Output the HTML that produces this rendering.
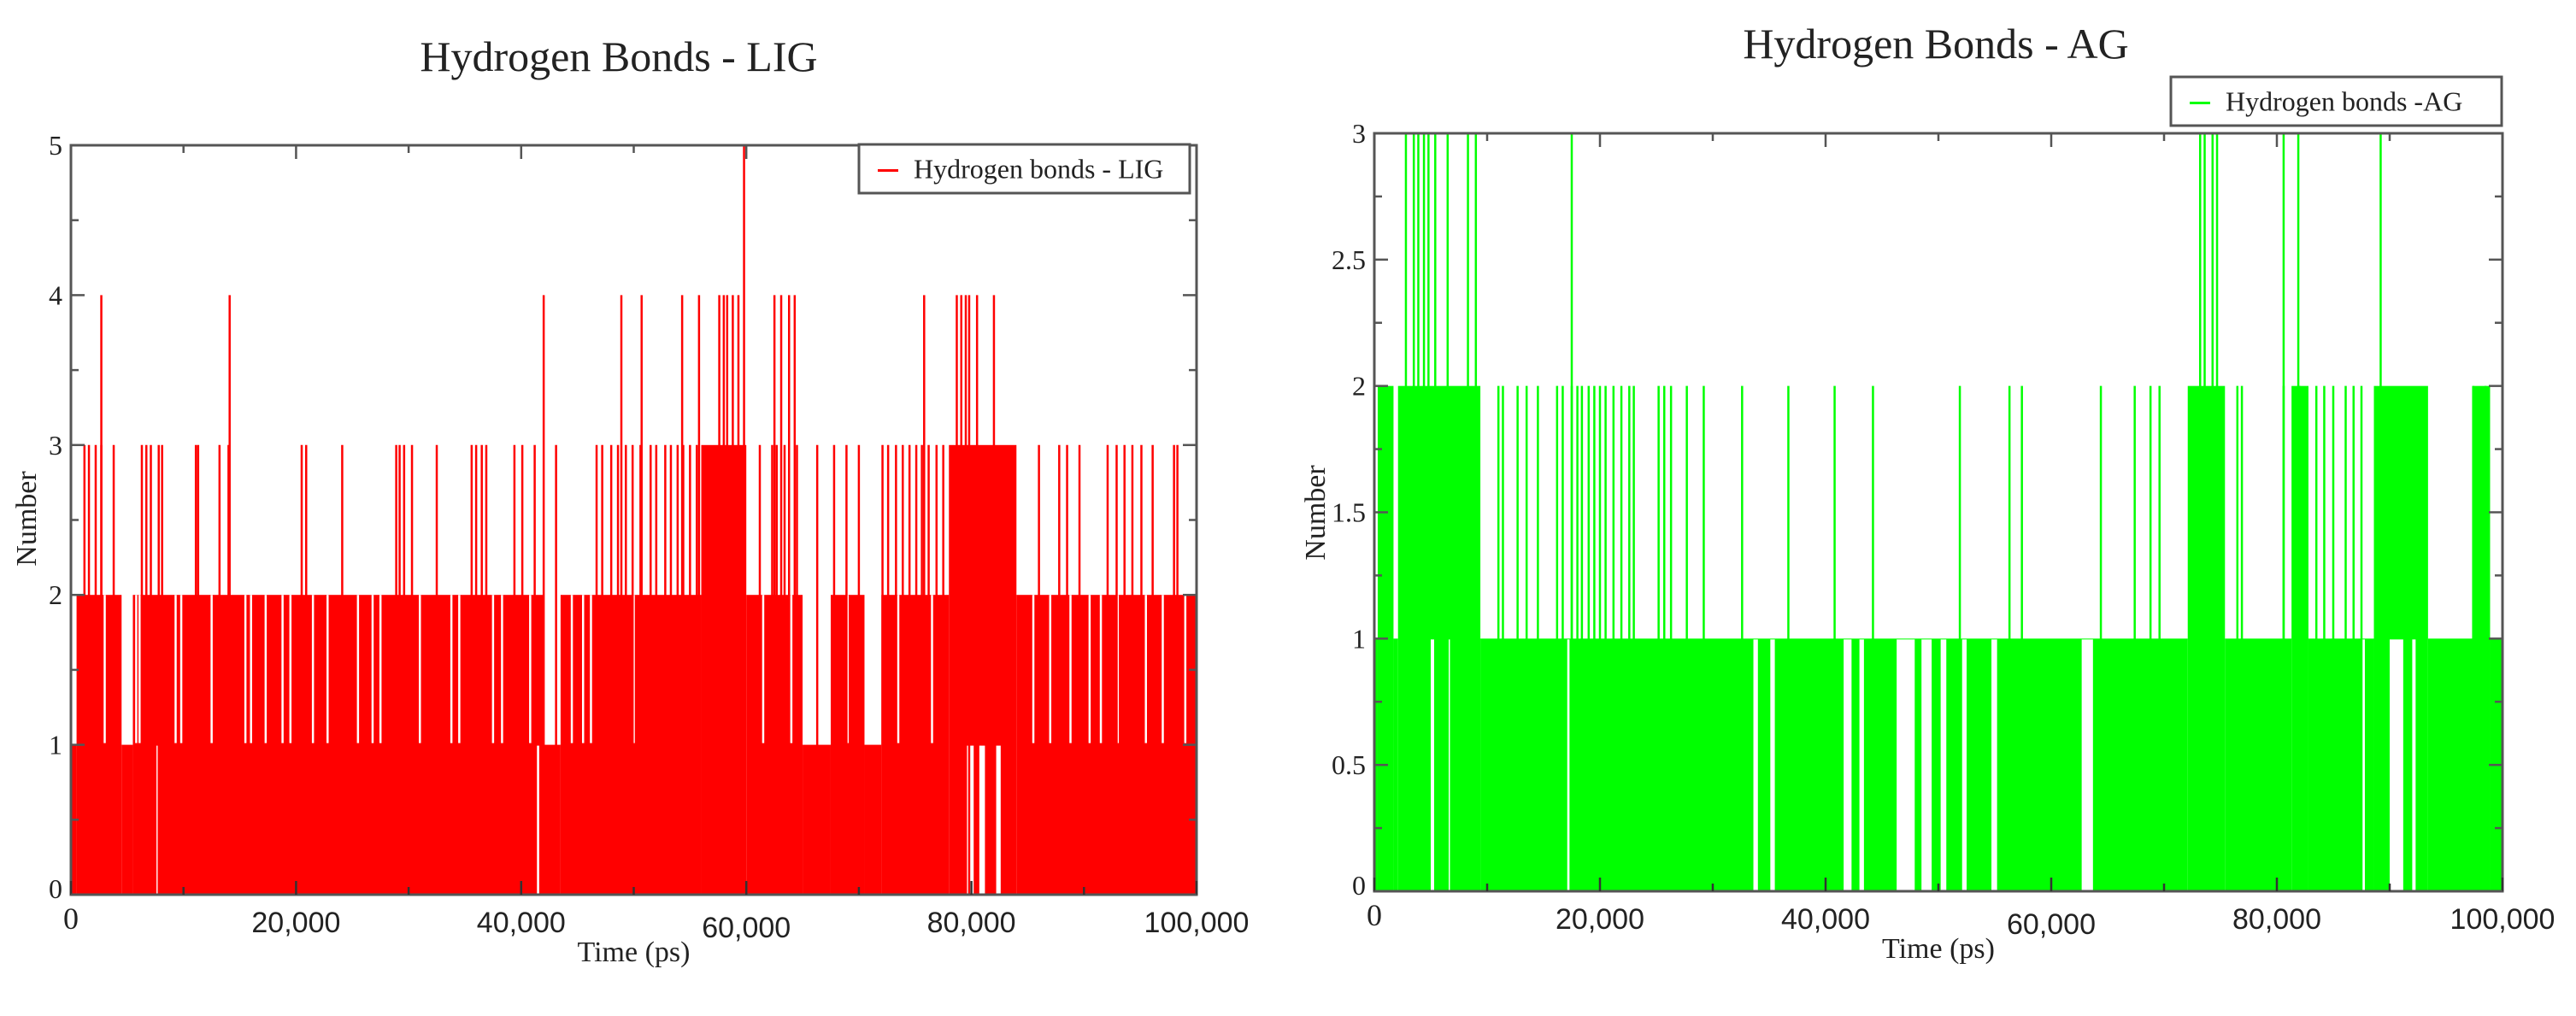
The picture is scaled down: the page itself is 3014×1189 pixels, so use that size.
<!DOCTYPE html>
<html><head><meta charset="utf-8"><style>
html,body{margin:0;padding:0;background:#fff;}
svg{display:block;}
text{font-family:"Liberation Serif",serif;fill:#222;}
.sans{font-family:"Liberation Sans",sans-serif;}
</style></head><body>
<svg id="root" width="3014" height="1189" viewBox="0 0 3014 1189" xmlns="http://www.w3.org/2000/svg">
<rect width="3014" height="1189" fill="#fff"/>
<g id="left"></g>
<g id="right"></g>
</svg>
<script>
// ---- data (time in thousands of ps) ----
const leftBands = [[0,0.5,1],[0.5,4.5,2],[4.5,5.5,1],[5.5,42,2],[42,43.5,1],[43.5,56,2],[56,60,3],[60,65,2],[65,67.5,1],[67.5,70.5,2],[70.5,72,1],[72,78,2],[78,84,3],[84,100,2]];
const leftGaps = [[79.6,80.2,1],[80.7,81.2,1],[82.2,82.6,1],[7.6,7.8,1],[41.4,41.6,1]];
const leftSlivers = [3.0,5.8,6.1,9.3,9.8,12.5,15.5,16.0,17.3,18.8,19.5,21.5,22.8,25.5,26.8,27.5,31.0,33.8,34.5,37.5,38.3,40.8,44.5,45.5,46.2,50.0,61.5,64.0,69.0,73.5,76.5,85.5,87.0,88.8,90.5,91.5,93.0,95.5,97.0,99.0];
const leftSpikes3 = [1.2,1.6,2.2,2.7,3.8,6.3,6.7,7.1,7.8,8.1,11.1,11.3,13.2,14.0,20.5,20.9,24.1,28.9,29.2,29.6,30.3,32.5,35.6,36.0,36.5,36.9,39.4,40.1,41.2,43.1,46.7,47.2,48.0,48.6,49.3,49.9,50.6,51.5,52.0,52.8,53.3,53.9,54.4,55.0,55.6,61.2,62.3,62.7,63.4,64.5,66.3,67.8,68.9,70.0,72.1,72.6,73.3,73.9,74.5,75.1,75.6,76.2,76.9,77.5,86.0,87.8,88.5,89.6,92.1,92.9,93.6,94.3,95.1,96.1,98.0,98.3];
const leftSpikes4 = [2.7,14.1,42.0,48.9,50.7,54.3,55.8,57.6,58.0,58.3,58.8,59.3,62.5,63.1,63.8,64.3,75.8,78.7,79.1,79.5,79.8,80.5,82.0];
const leftSpikes5 = [59.8];
const leftYTicks = ["0","1","2","3","4","5"];
const rightBands = [[0,0.3,1],[0.3,1.7,2],[1.7,2.1,1],[2.1,9.4,2],[9.4,72.1,1],[72.1,75.4,2],[75.4,81.3,1],[81.3,82.8,2],[82.8,88.6,1],[88.6,93.4,2],[93.4,97.4,1],[97.4,98.9,2],[98.9,100,1]];
const rightGaps = [[5.0,5.3,1],[6.5,6.7,1],[17.1,17.3,1],[33.6,34.0,1],[35.1,35.5,1],[41.6,42.3,1],[43.0,43.4,1],[46.3,47.9,1],[48.5,49.4,1],[50.2,50.7,1],[52.1,52.5,1],[54.7,55.2,1],[62.7,63.7,1],[87.5,87.8,1],[90.0,91.2,1],[92.0,92.3,1]];
const rightSpikes2 = [11.0,11.4,12.7,13.5,14.5,16.2,16.7,17.5,18.0,18.4,19.0,19.5,20.0,20.5,21.2,21.9,22.6,23.0,25.2,25.7,26.3,27.7,29.2,32.6,36.7,40.8,44.2,51.9,56.3,57.4,64.4,67.4,68.8,69.6,76.5,76.9,80.6,82.0,83.5,84.2,85.0,86.1,86.8,87.5,97.4,98.5];
const rightSpikes3 = [2.8,3.5,3.9,4.4,4.8,5.4,6.5,8.3,9.0,17.5,73.2,73.6,74.3,74.7,80.6,81.9,89.2];
const rightYTicks = ["0","0.5","1","1.5","2","2.5","3"];
const xTickLabels = ["0","20,000","40,000","60,000","80,000","100,000"];

const NS="http://www.w3.org/2000/svg";
function mk(parent,tag,attrs,txt){const e=document.createElementNS(NS,tag);for(const k in attrs)e.setAttribute(k,attrs[k]);if(txt!==undefined)e.textContent=txt;parent.appendChild(e);return e;}

function draw(g,cfg){
  const X=t=>cfg.x0+(t/100)*(cfg.x1-cfg.x0);
  const Y=v=>cfg.y1-(v/cfg.ymax)*(cfg.y1-cfg.y0);
  let t=mk(g,'text',{x:cfg.tx,y:cfg.ty,'text-anchor':'middle','font-size':50},cfg.title);
  
  
  cfg.bands.forEach(b=>{
    const r=mk(g,'rect',{x:X(b[0]),y:Y(b[2]),width:X(b[1])-X(b[0]),height:Y(0)-Y(b[2]),fill:cfg.color});
    
    
  });
  cfg.gaps.forEach(b=>{
    const r=mk(g,'rect',{x:X(b[0]),y:Y(b[2])+1,width:X(b[1])-X(b[0]),height:Y(0)-Y(b[2])-1,fill:'#fff'});
    
    
  });
  cfg.slivers.forEach(tt=>{
    const l=mk(g,'line',{x1:X(tt),x2:X(tt),y1:Y(1)-2,y2:Y(2),stroke:'#fff','stroke-width':2.5});
    
    
  });
  cfg.spikes.forEach(s=>{
    s.times.forEach(tt=>{
      const l=mk(g,'line',{x1:X(tt),x2:X(tt),y1:Y(0),y2:Y(s.v),stroke:cfg.color,'stroke-width':2.5});
      
      
    });
  });
  const f=mk(g,'rect',{x:cfg.x0,y:cfg.y0,width:cfg.x1-cfg.x0,height:cfg.y1-cfg.y0,fill:'none',stroke:'#555','stroke-width':3});
  
  
  for(let i=0;i<=10;i++){
    const tv=i*10, L=i%2===0?16:9;
    mk(g,'line',{x1:X(tv),x2:X(tv),y1:cfg.y1,y2:cfg.y1-L,stroke:'#333','stroke-width':2.5});
    mk(g,'line',{x1:X(tv),x2:X(tv),y1:cfg.y0,y2:cfg.y0+L,stroke:'#555','stroke-width':2.5});
  }
  xTickLabels.forEach((lab,i)=>{
    const tv=i*20;
    const e=mk(g,'text',{x:X(tv),y:cfg.y1+(i===0?40:44)+(i===3?6:0),'text-anchor':'middle','font-size':i===0?36:34,class:i===0?'':'sans'},lab);
    
    
  });
  cfg.yTicks.forEach((lab,i)=>{
    const v=i*cfg.ystep;
    mk(g,'line',{x1:cfg.x0,x2:cfg.x0+16,y1:Y(v),y2:Y(v),stroke:'#555','stroke-width':2.5});
    mk(g,'line',{x1:cfg.x1,x2:cfg.x1-16,y1:Y(v),y2:Y(v),stroke:'#555','stroke-width':2.5});
    if(i<cfg.yTicks.length-1){const m=v+cfg.ystep/2;
      mk(g,'line',{x1:cfg.x0,x2:cfg.x0+9,y1:Y(m),y2:Y(m),stroke:'#555','stroke-width':2.5});
      mk(g,'line',{x1:cfg.x1,x2:cfg.x1-9,y1:Y(m),y2:Y(m),stroke:'#555','stroke-width':2.5});}
    const e=mk(g,'text',{x:cfg.x0-10,y:Y(v)+(i===0?4:11),'text-anchor':'end','font-size':32},lab);
    
    
  });
  const xt=mk(g,'text',{x:(cfg.x0+cfg.x1)/2+cfg.xtOff,y:cfg.y1+78,'text-anchor':'middle','font-size':34,fill:'#444'},'Time (ps)');
  
  
  const yt=mk(g,'text',{x:0,y:0,'text-anchor':'middle','font-size':34,transform:`translate(${cfg.ylx},${cfg.yly}) rotate(-90)`},'Number');
  
  
  const lg=mk(g,'g',{});
  
  
  mk(lg,'rect',{x:cfg.lx0,y:cfg.ly0,width:cfg.lx1-cfg.lx0,height:cfg.ly1-cfg.ly0,fill:'#fff',stroke:'#555','stroke-width':3});
  mk(lg,'line',{x1:cfg.lx0+22,x2:cfg.lx0+46,y1:(cfg.ly0+cfg.ly1)/2+2,y2:(cfg.ly0+cfg.ly1)/2+2,stroke:cfg.color,'stroke-width':3});
  const lt=mk(lg,'text',{x:cfg.lx0+64,y:(cfg.ly0+cfg.ly1)/2+11,'font-size':32},cfg.legend);
  
  
}

draw(document.getElementById('left'),{x0:83,x1:1400,y0:170,y1:1047,ymax:5,ystep:1,yTicks:leftYTicks,
  color:'#ff0000',bands:leftBands,gaps:leftGaps,slivers:leftSlivers,
  spikes:[{v:3,times:leftSpikes3},{v:4,times:leftSpikes4},{v:5,times:leftSpikes5}],
  title:'Hydrogen Bonds - LIG',tx:724,ty:83,xtOff:0,ylx:42,yly:607,
  lx0:1005,lx1:1392,ly0:169,ly1:226,legend:'Hydrogen bonds - LIG'});
draw(document.getElementById('right'),{x0:1608,x1:2928,y0:156,y1:1043,ymax:3,ystep:0.5,yTicks:rightYTicks,
  color:'#00ff00',bands:rightBands,gaps:rightGaps,slivers:[],
  spikes:[{v:2,times:rightSpikes2},{v:3,times:rightSpikes3}],
  title:'Hydrogen Bonds - AG',tx:2265,ty:68,xtOff:0,ylx:1550,yly:600,
  lx0:2540,lx1:2927,ly0:90,ly1:147,legend:'Hydrogen bonds -AG'});
</script>
</body></html>
